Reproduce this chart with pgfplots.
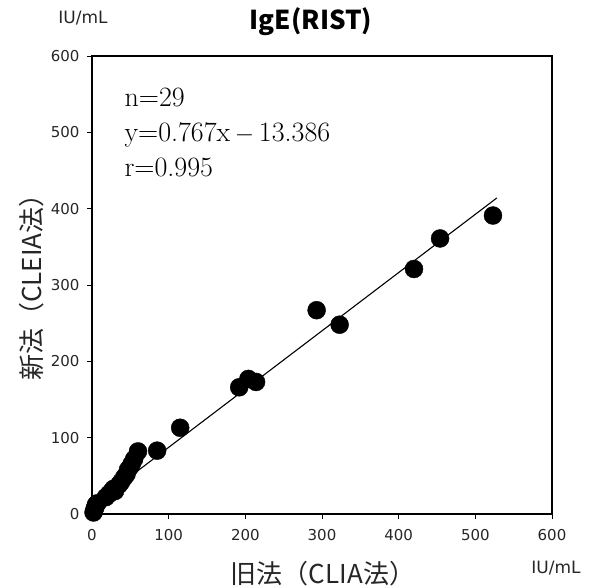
\documentclass[border=0pt]{standalone}
\usepackage{fontspec}
\usepackage{pgfplots}
\pgfplotsset{compat=1.18}
\newfontfamily\dejavu{DejaVu Sans}
\newfontfamily\cjk{Noto Sans CJK JP}
\begin{document}
\begin{tikzpicture}
\path[use as bounding box] (-92pt,-73pt) rectangle (508pt,514pt);
\begin{axis}[
  at={(0pt,0pt)}, anchor=south west,
  scale only axis, width=460pt, height=458pt,
  xmin=0, xmax=600, ymin=0, ymax=600,
  xtick={0,100,...,600}, ytick={0,100,...,600},
  tick align=outside, tick pos=left,
  major tick length=5pt,
  axis line style={line width=1.5pt},
  tick style={black, line width=0.8pt},
  ticklabel style={font=\dejavu\fontsize{15}{16}\selectfont, text=black!85},
  yticklabel style={xshift=-4pt},
  xticklabel style={yshift=-7pt},
  /pgf/number format/assume math mode=true,
  clip=false,
]
\addplot[black, line width=1.1pt] coordinates {(0,11) (528,414)};
\addplot[only marks, mark=*, mark size=9pt, black] coordinates {
(2,2) (3,5) (4,8) (5,12) (7,14)
(18,22) (22,26) (25,29) (28,33) (30,30)
(35,38) (38,42) (42,48) (45,52) (47,58)
(50,62) (52,66) (55,72) (60,82) (85,83)
(115,113) (192,166) (204,177) (214,173)
(293,267) (323,248) (420,321) (454,361) (523,391)
};
\end{axis}
\node[anchor=base west, font=\fontsize{28}{30}\selectfont] at (29pt,407pt) {n=29};
\node[anchor=base west, font=\fontsize{28}{30}\selectfont] at (29pt,372pt) {y=0.767x\,$-$\,13.386};
\node[anchor=base west, font=\fontsize{28}{30}\selectfont] at (29pt,337pt) {r=0.995};
\node[font=\cjk\bfseries\fontsize{26}{28}\selectfont] at (219pt,492pt) {IgE(RIST)};
\node[font=\dejavu\fontsize{17}{18}\selectfont, text=black!85] at (-9pt,496pt) {IU/mL};
\node[font=\dejavu\fontsize{17}{18}\selectfont, text=black!85] at (464pt,-54pt) {IU/mL};
\node[font=\cjk\fontsize{26}{28}\selectfont, text=black!85] at (231pt,-60pt) {旧法（CLIA法）};
\node[font=\cjk\fontsize{26}{28}\selectfont, text=black!85, rotate=90] at (-60pt,233pt) {新法（CLEIA法）};
\end{tikzpicture}
\end{document}
